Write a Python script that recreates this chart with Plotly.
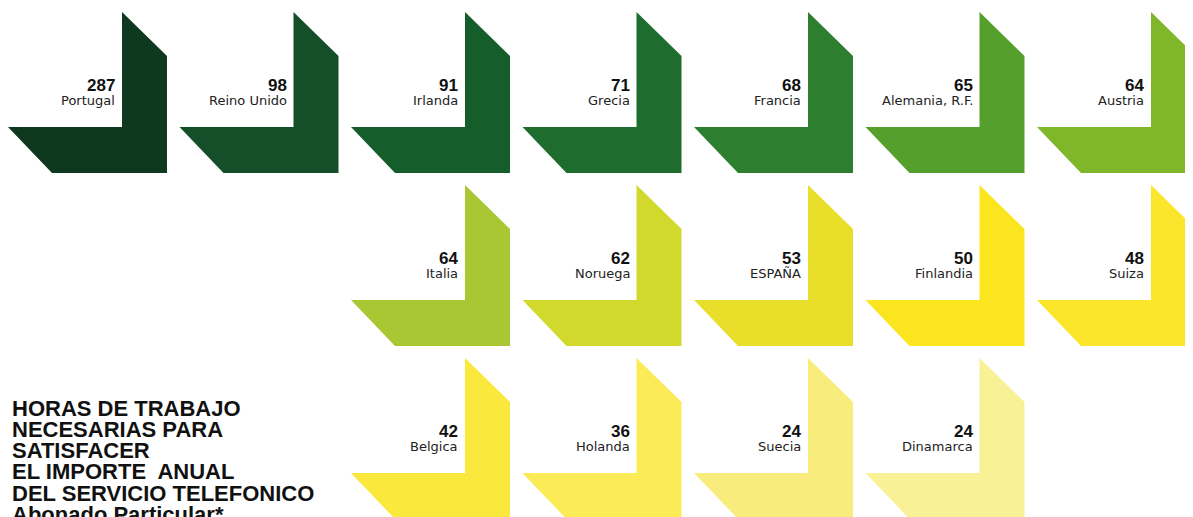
import plotly.graph_objects as go

# ---- data ----
countries = ["Portugal", "Reino Unido", "Irlanda", "Grecia", "Francia", "Alemania, R.F.", "Austria",
             "Italia", "Noruega", "ESPAÑA", "Finlandia", "Suiza",
             "Belgica", "Holanda", "Suecia", "Dinamarca"]
hours = [287, 98, 91, 71, 68, 65, 64,
         64, 62, 53, 50, 48,
         42, 36, 24, 24]
colors = ["#0e391f", "#144f2a", "#165d2c", "#1f6c2f", "#2e7e2f", "#55a02c", "#80b62a",
          "#a8c732", "#d0d92c", "#e9df2a", "#fbe51f", "#fbe62b",
          "#fae83d", "#faeb57", "#f8ed7c", "#f9f196"]
title_lines = ["HORAS DE TRABAJO", "NECESARIAS PARA", "SATISFACER",
               "EL IMPORTE  ANUAL", "DEL SERVICIO TELEFONICO", "Abonado Particular*"]

# grid layout: row lengths and starting column of each row
row_starts = [0, 2, 2]
row_counts = [7, 5, 4]

W, H = 1193, 517
OFF = 8  # page body margin of the browser
X0, DX = 122, 171.5
Y0, DY = 12, 173

fig = go.Figure()
annotations = []

idx = 0
for r, (start, count) in enumerate(zip(row_starts, row_counts)):
    for k in range(count):
        c = start + k
        x0 = X0 + DX * c
        y0 = Y0 + DY * r
        xs = [x0, x0 + 45, x0 + 45, x0 - 70, x0 - 114, x0, x0]
        ys = [y0, y0 + 44, y0 + 161, y0 + 161, y0 + 115, y0 + 115, y0]
        fig.add_trace(go.Scatter(x=xs, y=ys, mode="lines", fill="toself",
                                 fillcolor=colors[idx], line=dict(width=0, color=colors[idx]),
                                 hoverinfo="skip", showlegend=False))
        annotations.append(dict(x=x0 - 5, y=y0 + 73, xref="x", yref="y",
                                text="<b>%d</b>" % hours[idx], showarrow=False,
                                xanchor="right", yanchor="middle",
                                font=dict(family="Liberation Sans", size=17, color="#111111")))
        annotations.append(dict(x=x0 - 5, y=y0 + 88, xref="x", yref="y",
                                text=countries[idx], showarrow=False,
                                xanchor="right", yanchor="middle",
                                font=dict(family="DejaVu Sans", size=13, color="#222222")))
        idx += 1

for i, line in enumerate(title_lines):
    annotations.append(dict(x=10, y=408 + 21.3 * i, xref="x", yref="y",
                            text="<b>%s</b>" % line, showarrow=False,
                            xanchor="left", yanchor="middle",
                            font=dict(family="Liberation Sans", size=22, color="#111111")))

fig.update_layout(
    width=W, height=H,
    margin=dict(l=0, r=0, t=0, b=0),
    paper_bgcolor="white", plot_bgcolor="white",
    xaxis=dict(range=[OFF, W + OFF], visible=False, fixedrange=True),
    yaxis=dict(range=[H + OFF, OFF], visible=False, fixedrange=True),
    annotations=annotations,
    showlegend=False,
)

fig.write_html("out.html")
